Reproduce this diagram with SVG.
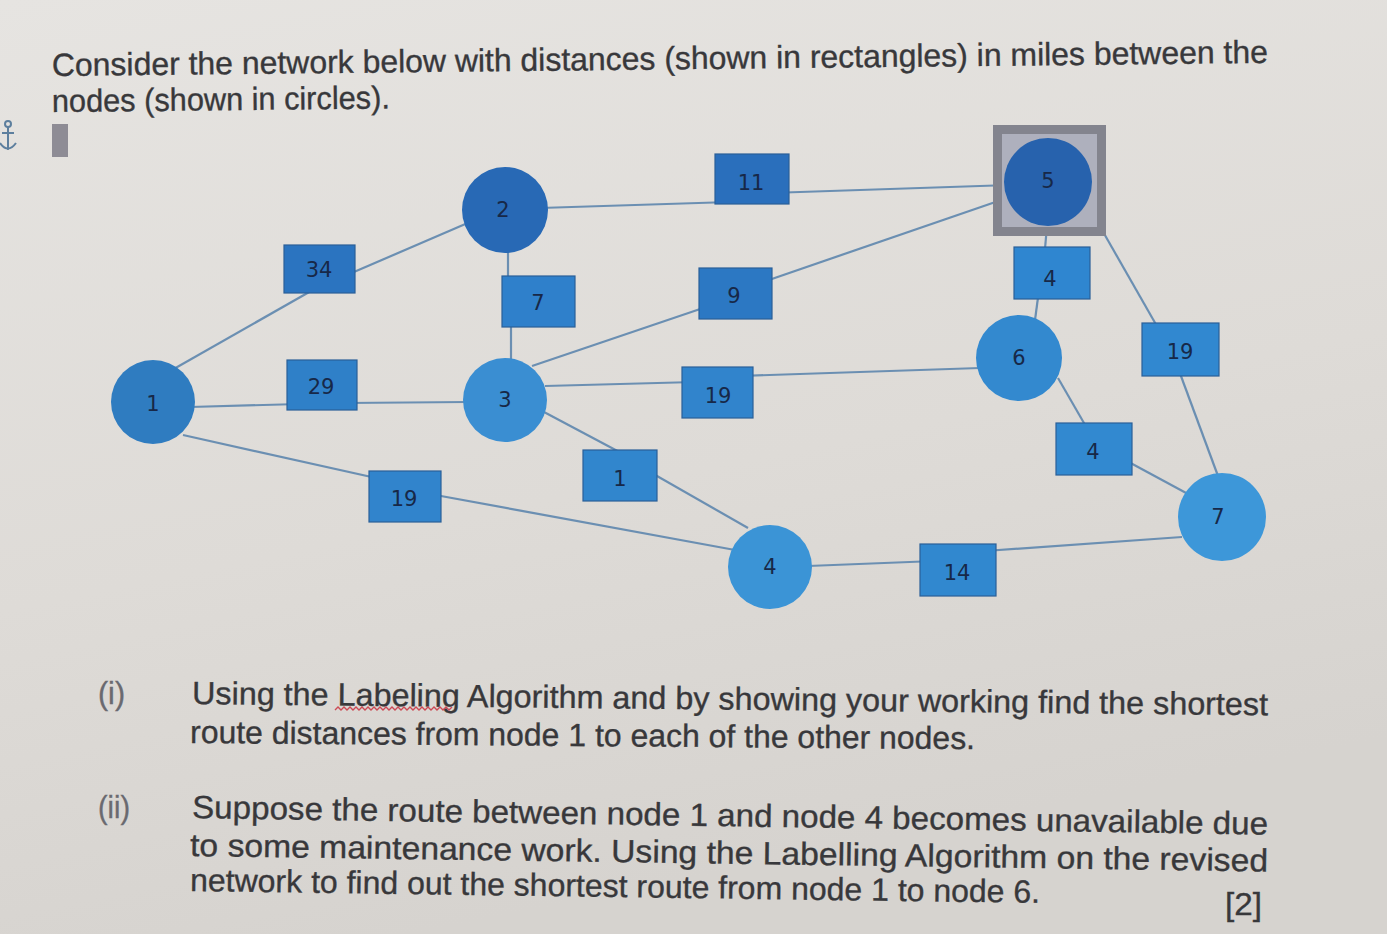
<svg xmlns="http://www.w3.org/2000/svg" width="1387" height="934" viewBox="0 0 1387 934">
<defs>
<linearGradient id="bg" x1="0" y1="0" x2="0.3" y2="1">
<stop offset="0" stop-color="#e6e4e1"/>
<stop offset="0.6" stop-color="#dedbd7"/>
<stop offset="1" stop-color="#d6d3cf"/>
</linearGradient>
<style>
.t{font-family:"Liberation Sans",Arial,sans-serif;font-size:32px;fill:#38383b;stroke:#38383b;stroke-width:0.35}
.lt{fill:#6a6a70;stroke:#6a6a70}
.e{stroke:#6b8fb2;stroke-width:2.2;fill:none}
.b{stroke:#2a5f98;stroke-width:1.2}
.n{font-family:"DejaVu Sans","Noto Sans",sans-serif;font-size:21px;fill:#172848;text-anchor:middle;dominant-baseline:central}
</style>
</defs>
<rect width="1387" height="934" fill="url(#bg)"/>

<g id="heading">
<text class="t" x="52" y="76" textLength="1216" lengthAdjust="spacingAndGlyphs" transform="rotate(-0.62 52 76)">Consider the network below with distances (shown in rectangles) in miles between the</text>
<text class="t" x="52" y="112" textLength="338" lengthAdjust="spacingAndGlyphs" transform="rotate(-0.6 52 112)">nodes (shown in circles).</text>
</g>

<g id="marks">
<g fill="none" stroke="#5d7f9e" stroke-width="2">
<circle cx="8" cy="124" r="3"/>
<path d="M8 127 L8 150 M2 133 L14 133 M0 143 Q8 154 16 143"/>
</g>
<rect x="52" y="124" width="16" height="33" fill="#8e8c95"/>
</g>

<g id="connectors">
<path class="e" d="M172 370 L318 287"/>
<path class="e" d="M340 278 L470 222"/>
<path class="e" d="M540 208 L730 202"/>
<path class="e" d="M770 193 L1010 185"/>
<path class="e" d="M1010 197 L760 283"/>
<path class="e" d="M712 305 L532 366"/>
<path class="e" d="M508 250 L508 290"/>
<path class="e" d="M511 315 L511 362"/>
<path class="e" d="M190 407 L300 404"/>
<path class="e" d="M345 403 L468 402"/>
<path class="e" d="M545 386 L695 382"/>
<path class="e" d="M740 376 L980 368"/>
<path class="e" d="M544 412 L625 455"/>
<path class="e" d="M650 472 L748 528"/>
<path class="e" d="M183 435 L385 480"/>
<path class="e" d="M430 494 L735 550"/>
<path class="e" d="M808 566 L935 561"/>
<path class="e" d="M985 551 L1182 537"/>
<path class="e" d="M1047 226 L1044 260"/>
<path class="e" d="M1039 290 L1035 320"/>
<path class="e" d="M1102 230 L1162 335"/>
<path class="e" d="M1178 368 L1218 476"/>
<path class="e" d="M1058 378 L1088 430"/>
<path class="e" d="M1125 460 L1188 494"/>
</g>

<g id="w34"><rect class="b" x="284" y="245" width="71" height="48" fill="#2b74c0"/><text class="n" x="319" y="270">34</text></g>
<g id="w11"><rect class="b" x="715" y="154" width="74" height="50" fill="#2a6fbc"/><text class="n" x="751" y="183">11</text></g>
<g id="w7"><rect class="b" x="502" y="276" width="73" height="51" fill="#2f80cb"/><text class="n" x="538" y="303">7</text></g>
<g id="w9"><rect class="b" x="699" y="268" width="73" height="51" fill="#2c78c3"/><text class="n" x="734" y="296">9</text></g>
<g id="w4a"><rect class="b" x="1014" y="247" width="76" height="52" fill="#2f86d0"/><text class="n" x="1050" y="279">4</text></g>
<g id="w29"><rect class="b" x="287" y="360" width="70" height="50" fill="#2f80c8"/><text class="n" x="321" y="387">29</text></g>
<g id="w19a"><rect class="b" x="682" y="367" width="71" height="51" fill="#3184cc"/><text class="n" x="718" y="396">19</text></g>
<g id="w19b"><rect class="b" x="1142" y="323" width="77" height="53" fill="#3188d0"/><text class="n" x="1180" y="352">19</text></g>
<g id="w4b"><rect class="b" x="1056" y="423" width="76" height="52" fill="#3289d0"/><text class="n" x="1093" y="452">4</text></g>
<g id="w1"><rect class="b" x="583" y="450" width="74" height="51" fill="#3186cd"/><text class="n" x="620" y="479">1</text></g>
<g id="w19c"><rect class="b" x="369" y="471" width="72" height="51" fill="#3184cc"/><text class="n" x="404" y="499">19</text></g>
<g id="w14"><rect class="b" x="920" y="544" width="76" height="52" fill="#3188cf"/><text class="n" x="957" y="573">14</text></g>

<g id="node1"><circle cx="153" cy="402" r="42" fill="#2f7cc0"/><text class="n" x="153" y="404">1</text></g>
<g id="node2"><circle cx="505" cy="210" r="43" fill="#2869b5"/><text class="n" x="503" y="210">2</text></g>
<g id="node3"><circle cx="505" cy="400" r="42" fill="#3a8ed2"/><text class="n" x="505" y="400">3</text></g>
<g id="node4"><circle cx="770" cy="567" r="42" fill="#3b94d6"/><text class="n" x="770" y="567">4</text></g>
<g id="node5">
<rect x="993" y="125" width="113" height="111" fill="#83848e"/>
<rect x="1002" y="134" width="95" height="93" fill="#aeb0bd"/>
<circle cx="1048" cy="182" r="44" fill="#2762ad"/>
<text class="n" x="1048" y="181">5</text>
</g>
<g id="node6"><circle cx="1019" cy="358" r="43" fill="#3389cf"/><text class="n" x="1019" y="358">6</text></g>
<g id="node7"><circle cx="1222" cy="517" r="44" fill="#3d97d9"/><text class="n" x="1218" y="517">7</text></g>

<g id="questions">
<text class="t lt" x="98" y="704" textLength="27" lengthAdjust="spacingAndGlyphs">(i)</text>
<text class="t" x="192" y="704" textLength="1076" lengthAdjust="spacingAndGlyphs" transform="rotate(0.6 192 704)">Using the Labeling Algorithm and by showing your working find the shortest</text>
<path d="M335 710 l3 -3 l3 3 l3 -3 l3 3 l3 -3 l3 3 l3 -3 l3 3 l3 -3 l3 3 l3 -3 l3 3 l3 -3 l3 3 l3 -3 l3 3 l3 -3 l3 3 l3 -3 l3 3 l3 -3 l3 3 l3 -3 l3 3 l3 -3 l3 3 l3 -3 l3 3 l3 -3 l3 3 l3 -3 l3 3 l3 -3 l3 3 l3 -3 l3 3 l3 -3 l3 3 l3 -3" fill="none" stroke="#cc4a55" stroke-width="1.4"/>
<text class="t" x="190" y="743" textLength="785" lengthAdjust="spacingAndGlyphs" transform="rotate(0.45 190 743)">route distances from node 1 to each of the other nodes.</text>
<text class="t lt" x="98" y="818" textLength="32" lengthAdjust="spacingAndGlyphs">(ii)</text>
<text class="t" x="192" y="818" textLength="1076" lengthAdjust="spacingAndGlyphs" transform="rotate(0.88 192 818)">Suppose the route between node 1 and node 4 becomes unavailable due</text>
<text class="t" x="190" y="856" textLength="1078" lengthAdjust="spacingAndGlyphs" transform="rotate(0.82 190 856)">to some maintenance work. Using the Labelling Algorithm on the revised</text>
<text class="t" x="190" y="891" textLength="850" lengthAdjust="spacingAndGlyphs" transform="rotate(0.8 190 891)">network to find out the shortest route from node 1 to node 6.</text>
<text class="t" x="1225" y="915" textLength="37" lengthAdjust="spacingAndGlyphs">[2]</text>
</g>
</svg>
